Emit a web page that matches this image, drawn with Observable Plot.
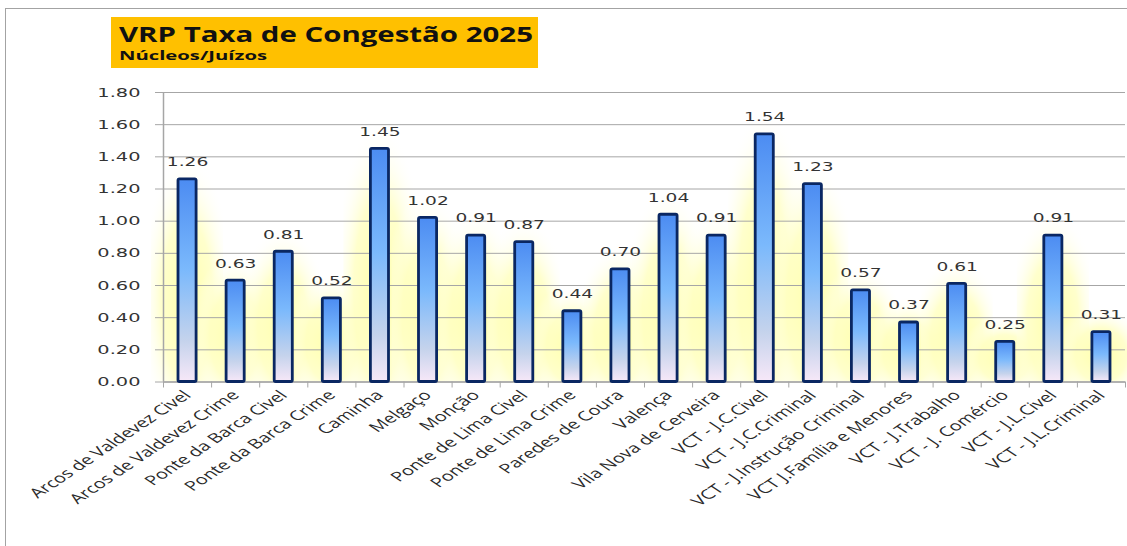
<!DOCTYPE html>
<html>
<head>
<meta charset="utf-8">
<script src="https://cdn.jsdelivr.net/npm/d3@7"></script>
<script src="https://cdn.jsdelivr.net/npm/@observablehq/plot@0.6"></script>
<style>
  html, body { margin: 0; padding: 0; background: #fff; overflow: hidden; }
  #wrap { position: relative; width: 1127px; height: 546px; }
  #frame { position: absolute; left: 5px; top: 8px; width: 1200px; height: 600px;
           border-left: 1.5px solid #a3a3a3; border-top: 1.5px solid #a3a3a3; }
  #titlebox { position: absolute; left: 111px; top: 17px; width: 427px; height: 51px; background: #FFC000; }
  .ttl { position: absolute; white-space: nowrap; font-family: "Open Sans", sans-serif; font-weight: 700;
         color: #111; transform-origin: 0 0; line-height: 1; }
  #chart { position: absolute; left: 0; top: 0; }
</style>
</head>
<body>
<svg width="0" height="0" style="position:absolute">
  <defs>
    <linearGradient id="barGrad" x1="0" y1="0" x2="0" y2="1">
      <stop offset="0" stop-color="#4c8cf2"/>
      <stop offset="0.45" stop-color="#7bb9fc"/>
      <stop offset="0.8" stop-color="#c5d3ec"/>
      <stop offset="1" stop-color="#f7e8f8"/>
    </linearGradient>
    <radialGradient id="glow" cx="0.5" cy="0.65" r="0.65">
      <stop offset="0" stop-color="#ffffa8" stop-opacity="1"/>
      <stop offset="0.55" stop-color="#ffffc0" stop-opacity="0.8"/>
      <stop offset="1" stop-color="#ffffff" stop-opacity="0"/>
    </radialGradient>
  </defs>
</svg>
<div id="wrap">
  <div id="frame"></div>
  <div id="chart"></div>
  <div id="titlebox"></div>
  <span class="ttl" id="t1" style="left:119px; top:23.5px; font-size:21px;">VRP Taxa de Congestão 2025</span>
  <span class="ttl" id="t2" style="left:119px; top:48.5px; font-size:13px;">Núcleos/Juízos</span>
</div>
<script>
const categories = [
  "Arcos de Valdevez Civel", "Arcos de Valdevez Crime", "Ponte da Barca Civel", "Ponte da Barca Crime",
  "Caminha", "Melgaço", "Monção", "Ponte de Lima Civel", "Ponte de Lima Crime", "Paredes de Coura",
  "Valença", "Vila Nova de Cerveira", "VCT - J.C.Civel", "VCT - J.C.Criminal",
  "VCT - J.Instrução Criminal", "VCT J.Família e Menores", "VCT - J.Trabalho", "VCT - J. Comércio",
  "VCT - J.L.Civel", "VCT - J.L.Criminal"
];
const values = [1.26, 0.63, 0.81, 0.52, 1.45, 1.02, 0.91, 0.87, 0.44, 0.70,
                1.04, 0.91, 1.54, 1.23, 0.57, 0.37, 0.61, 0.25, 0.91, 0.31];
const yTicks = [0, 0.2, 0.4, 0.6, 0.8, 1.0, 1.2, 1.4, 1.6, 1.8];

const data = categories.map((c, i) => ({c, i, v: values[i]}));
const fmt = d3.format(".2f");
const n = categories.length;

const plot = Plot.plot({
  width: 1127,
  height: 546,
  marginLeft: 163,
  marginRight: 2,
  marginTop: 92,
  marginBottom: 164.5,
  style: {background: "transparent", overflow: "visible"},
  x: {type: "linear", domain: [0, n], axis: null},
  y: {domain: [0, 1.8], axis: null},
  marks: [
    Plot.rect(data, {x1: d => d.i - 0.25, x2: d => d.i + 1.25, y1: d => 0, y2: d => d.v + 0.16, fill: "url(#glow)"}),
    Plot.gridY(yTicks, {stroke: "#a6a6a6", strokeOpacity: 1, strokeWidth: 1}),
    Plot.ruleX([0], {stroke: "#a6a6a6", strokeWidth: 1.5}),
    Plot.ruleY([0], {stroke: "#a6a6a6", strokeWidth: 1.5}),
    Plot.rect(data, {x1: "i", x2: d => d.i + 1, y1: d => 0, y2: "v", insetLeft: 15, insetRight: 15,
      fill: "url(#barGrad)", stroke: "#0a2762", strokeWidth: 2.8, rx: 1.5}),
    Plot.axisY({ticks: yTicks, tickFormat: fmt, tickSize: 8, tickPadding: 15, stroke: "#a6a6a6", label: null,
      fill: "#333", fontSize: 12.5, fontFamily: "DejaVu Sans"}),
    Plot.axisX({ticks: d3.range(0, n + 1), tickFormat: () => "", tickSize: 6, stroke: "#a6a6a6", label: null}),
    Plot.axisX({ticks: data.map(d => d.i + 0.5), tickFormat: t => categories[Math.floor(t)], tickSize: 0, label: null,
      tickPadding: 11, tickRotate: -45, fill: "#2a2a2a", fontSize: 13.4, fontFamily: "Open Sans"}),
    Plot.text(data, {x: d => d.i + 0.5, y: "v", text: d => fmt(d.v), dy: -17, fill: "#333",
      fontSize: 12, fontFamily: "DejaVu Sans"})
  ]
});
document.getElementById("chart").appendChild(plot);

// Horizontal stretch of the text glyphs (the reference chart is widened), about each text's own anchor.
function stretch(el, sx) {
  const tr = el.getAttribute("transform") || "";
  if (/rotate/.test(tr)) {
    el.setAttribute("transform", tr.replace(/rotate/, `scale(${sx},1) rotate`));
  } else {
    const xa = parseFloat(el.getAttribute("x"));
    const x = isFinite(xa) ? xa : 0;
    el.setAttribute("transform", `${tr} translate(${x},0) scale(${sx},1) translate(${-x},0)`);
  }
}
plot.querySelectorAll("text").forEach(t => {
  const s = t.textContent.trim();
  if (!s) return;
  if (/^\d\.\d\d$/.test(s)) stretch(t, 1.55);
  else if (categories.includes(s)) stretch(t, 1.5);
});

function fit(id, w) {
  const el = document.getElementById(id);
  const cur = el.getBoundingClientRect().width;
  el.style.transform = `scaleX(${w / cur})`;
}
fit("t1", 414);
fit("t2", 148);
</script>
</body>
</html>
